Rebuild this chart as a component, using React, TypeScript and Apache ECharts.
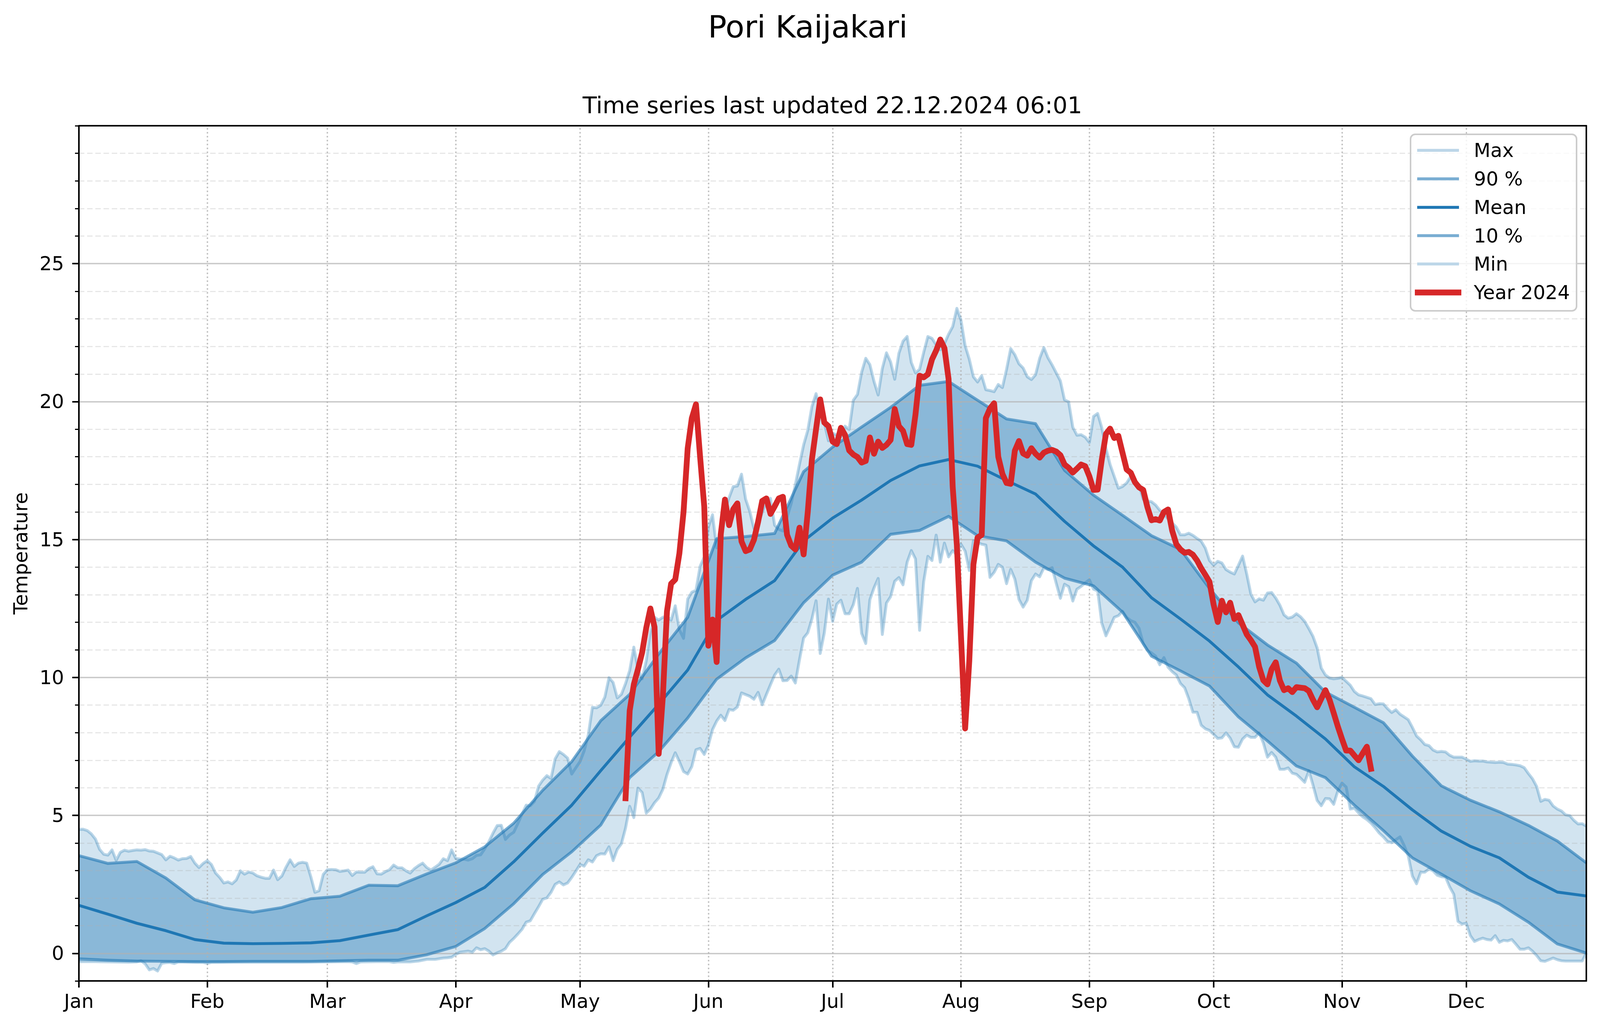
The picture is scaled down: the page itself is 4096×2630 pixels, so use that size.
import React, { useEffect, useRef } from "react";
import * as echarts from "echarts";

const FONT = "DejaVu Sans";
const TAB_BLUE = "#1f77b4";
const RED = "#d62728";

const TITLE = "Pori Kaijakari";
const SUBTITLE = "Time series last updated 22.12.2024 06:01";
const Y_NAME = "Temperature";

const MONTHS = ["Jan", "Feb", "Mar", "Apr", "May", "Jun", "Jul", "Aug", "Sep", "Oct", "Nov", "Dec"];
const MONTH_START_DAYS = [0, 31, 60, 91, 121, 152, 182, 213, 244, 274, 305, 335];
const Y_MAJOR_TICKS = [0, 5, 10, 15, 20, 25];
const Y_MINOR_TICKS = [-1, 1, 2, 3, 4, 6, 7, 8, 9, 11, 12, 13, 14, 16, 17, 18, 19, 21, 22, 23, 24, 26, 27, 28, 29, 30];

// weekly statistics (day of year)
const WEEK_DAYS = [0, 7, 14, 21, 28, 35, 42, 49, 56, 63, 70, 77, 84, 91, 98, 105, 112, 119, 126, 133, 140, 147, 154, 161, 168, 175, 182, 189, 196, 203, 210, 217, 224, 231, 238, 245, 252, 259, 266, 273, 280, 287, 294, 301, 308, 315, 322, 329, 336, 343, 350, 357, 364];
const P90 = [3.54, 3.26, 3.33, 2.73, 1.94, 1.65, 1.49, 1.66, 1.98, 2.07, 2.47, 2.45, 2.88, 3.28, 3.86, 4.72, 5.91, 6.95, 8.43, 9.39, 10.85, 12.18, 15.03, 15.11, 15.22, 17.46, 18.35, 19.08, 19.79, 20.59, 20.73, 20.05, 19.37, 19.2, 17.51, 16.61, 15.88, 15.14, 14.64, 13.23, 11.98, 11.18, 10.52, 9.47, 8.92, 8.36, 7.15, 6.07, 5.55, 5.13, 4.64, 4.07, 3.28];
const MEAN = [1.74, 1.42, 1.09, 0.82, 0.5, 0.37, 0.35, 0.36, 0.38, 0.46, 0.66, 0.86, 1.36, 1.84, 2.39, 3.32, 4.36, 5.37, 6.62, 7.84, 9.03, 10.27, 12.07, 12.83, 13.51, 14.95, 15.78, 16.43, 17.14, 17.67, 17.9, 17.66, 17.14, 16.65, 15.66, 14.77, 14.0, 12.89, 12.12, 11.32, 10.38, 9.37, 8.6, 7.77, 6.76, 6.05, 5.2, 4.43, 3.88, 3.46, 2.76, 2.22, 2.08];
const P10 = [-0.2, -0.25, -0.28, -0.29, -0.3, -0.3, -0.29, -0.29, -0.29, -0.27, -0.25, -0.25, -0.05, 0.25, 0.9, 1.8, 2.86, 3.68, 4.65, 6.37, 7.31, 8.53, 9.94, 10.71, 11.34, 12.71, 13.71, 14.18, 15.19, 15.33, 15.84, 15.14, 14.95, 14.18, 13.6, 13.32, 12.37, 10.77, 10.24, 9.69, 8.57, 7.7, 6.79, 6.37, 5.37, 4.45, 3.46, 2.87, 2.27, 1.79, 1.13, 0.34, 0.01];

// daily maximum, days 0..364
const MAX_START_DAY = 0;
const MAX_VALUES = [
  4.49, 4.5, 4.45, 4.33, 4.14, 3.77, 3.59, 3.56, 3.75, 3.37,
  3.66, 3.74, 3.7, 3.73, 3.75, 3.74, 3.76, 3.71, 3.7, 3.64,
  3.58, 3.39, 3.52, 3.46, 3.38, 3.43, 3.44, 3.51, 3.27, 3.11,
  3.26, 3.36, 3.22, 2.91, 2.75, 2.55, 2.59, 2.52, 2.66, 2.99,
  2.87, 2.95, 2.91, 2.81, 2.76, 2.72, 2.72, 3.02, 2.67, 2.8,
  3.12, 3.39, 3.15, 3.27, 3.3, 3.27, 2.78, 2.21, 2.27, 2.86,
  3.03, 3.04, 3.03, 2.97, 2.99, 3.02, 2.82, 2.95, 2.94, 2.94,
  3.07, 3.14, 2.88, 2.87, 2.96, 3.03, 3.2, 3.1, 3.1, 2.99,
  2.91, 3.07, 3.18, 3.27, 3.11, 3.02, 3.12, 3.23, 3.43, 3.36,
  3.75, 3.44, 3.42, 3.41, 3.38, 3.43, 3.55, 3.57, 3.79, 4.05,
  4.36, 4.63, 4.64, 4.13, 4.29, 4.39, 4.71, 5.05, 5.37, 5.35,
  5.51, 6.06, 6.28, 6.44, 6.34, 7.05, 7.31, 7.21, 7.08, 6.5,
  6.73, 6.95, 7.34, 7.92, 8.92, 8.9, 8.99, 9.29, 9.99, 9.82,
  9.26, 9.39, 9.78, 10.25, 11.1, 10.3, 9.95, 10.61, 11.66, 12.18,
  12.08, 12.18, 12.22, 12.08, 12.6, 11.73, 11.42, 12.84, 13.09, 13.16,
  14.03, 14.37, 15.45, 15.9, 14.7, 15.52, 16.05, 16.52, 16.92, 16.94,
  17.37, 16.46, 16.02, 15.4, 15.52, 15.99, 16.4, 16.49, 15.52, 15.37,
  15.31, 15.81, 16.31, 16.99, 17.73, 18.43, 18.96, 19.82, 20.29, 19.73,
  19.23, 18.58, 18.85, 18.79, 18.73, 19.11, 18.99, 20.05, 20.26, 21.06,
  21.57, 21.34, 20.73, 20.24, 21.2, 21.77, 21.44, 20.81, 21.75, 22.19,
  22.36, 21.42, 21.04, 21.17, 21.79, 22.36, 22.29, 22.06, 21.88, 22.1,
  22.44, 22.72, 23.38, 22.95, 22.03, 21.54, 20.9, 20.71, 20.94, 20.43,
  20.4, 20.36, 20.62, 20.51, 21.17, 21.92, 21.7, 21.37, 21.22, 20.9,
  20.8, 20.97, 21.57, 21.96, 21.59, 21.33, 21.04, 20.75, 20.06, 19.99,
  19.07, 18.78, 18.8, 18.71, 18.52, 19.46, 19.57, 19.05, 18.31, 17.72,
  17.29, 16.86, 16.92, 17.05, 17.29, 17.11, 16.98, 16.46, 16.4, 16.37,
  16.25, 16.06, 15.94, 15.75, 15.6, 15.45, 15.17, 15.17, 15.23, 15.15,
  15.04, 14.94, 14.69, 14.24, 14.07, 14.21, 14.15, 13.91, 13.82, 13.75,
  14.07, 14.4, 13.75, 13.02, 12.74, 12.85, 12.8, 13.06, 13.08, 12.88,
  12.62, 12.27, 12.15, 12.19, 12.31, 12.2, 12.03, 11.77, 11.49, 11.07,
  10.34, 10.09, 9.98, 9.95, 9.97, 10.0, 9.86, 9.72, 9.49, 9.37,
  9.33, 9.28, 9.23, 9.02, 9.05, 9.04, 8.87, 8.73, 8.83, 8.67,
  8.57, 8.47, 8.19, 7.88, 7.74, 7.57, 7.53, 7.37, 7.3, 7.32,
  7.3, 7.18, 7.11, 7.11, 7.11, 7.04, 6.96, 6.98, 6.97, 6.97,
  6.94, 6.93, 6.92, 6.93, 6.92, 6.86, 6.85, 6.83, 6.8, 6.73,
  6.52, 6.33, 6.05, 5.51, 5.58, 5.55, 5.34, 5.23, 5.16, 5.02,
  4.99, 4.82, 4.69, 4.7, 4.61,
];

// daily minimum: sparse readings in winter, then daily from day 93
const MIN_EARLY = [
  [0, -0.3], [4, -0.3], [8, -0.31], [12, -0.32], [14, -0.31], [15, -0.27], [16, -0.38], [17, -0.6], [18, -0.55], [19, -0.64],
  [20, -0.36], [21, -0.34], [22, -0.33], [23, -0.37], [24, -0.31], [27, -0.32], [30, -0.33], [31, -0.36], [32, -0.33], [36, -0.32],
  [42, -0.32], [48, -0.32], [54, -0.32], [60, -0.31], [65, -0.3], [66, -0.31], [67, -0.37], [68, -0.31], [72, -0.3], [75, -0.3],
  [76, -0.33], [77, -0.31], [80, -0.31], [82, -0.28], [84, -0.22], [86, -0.22], [88, -0.17], [89, -0.16], [90, -0.14], [91, -0.04],
  [92, 0.04],
];
const MIN_START_DAY = 93;
const MIN_VALUES = [
  0.06, 0.08, 0.04, 0.2, 0.13, 0.17, 0.08,
  -0.06, 0.02, 0.08, 0.17, 0.4, 0.54, 0.7, 0.87, 1.13, 1.18,
  1.44, 1.69, 1.96, 2.01, 2.21, 2.5, 2.59, 2.48, 2.55, 2.75,
  2.98, 3.22, 3.16, 3.39, 3.31, 3.54, 3.61, 3.6, 3.86, 3.36,
  3.77, 3.97, 4.54, 5.33, 4.92, 5.99, 5.83, 5.08, 5.23, 5.46,
  5.63, 5.94, 6.48, 6.91, 7.27, 6.95, 6.59, 6.5, 6.77, 7.38,
  7.43, 7.21, 7.55, 8.11, 8.42, 8.63, 8.44, 8.84, 8.81, 8.93,
  9.44, 9.38, 9.32, 9.21, 9.46, 9.01, 9.38, 9.74, 10.09, 10.3,
  9.88, 9.89, 10.05, 9.8, 10.64, 11.43, 11.62, 12.12, 12.78, 10.87,
  11.62, 12.84, 12.03, 12.66, 12.8, 12.31, 12.31, 12.64, 13.23, 11.6,
  11.23, 12.82, 13.25, 13.59, 11.56, 12.7, 12.93, 13.49, 13.62, 13.36,
  14.18, 14.6, 14.3, 11.71, 13.48, 14.39, 14.24, 15.16, 14.18, 14.87,
  14.37, 14.6, 14.44, 14.83, 14.58, 13.88, 14.95, 14.89, 14.83, 14.8,
  13.63, 13.81, 14.1, 14.0, 13.4, 13.92, 13.57, 12.83, 12.55, 12.8,
  13.51, 13.75, 13.65, 13.97, 13.91, 13.98, 13.41, 12.87, 13.38, 13.29,
  12.77, 13.2, 13.3, 13.43, 13.54, 13.2, 13.14, 11.97, 11.51, 11.84,
  12.18, 12.24, 12.4, 12.18, 12.06, 12.0, 11.78, 11.23, 10.98, 10.89,
  10.77, 10.46, 10.72, 10.37, 10.21, 10.09, 9.78, 9.63, 9.23, 8.74,
  8.74, 8.27, 8.14, 8.08, 7.94, 7.79, 7.81, 7.99, 7.8, 7.49,
  7.47, 7.77, 7.91, 7.83, 7.83, 7.99, 7.63, 7.11, 7.28, 7.11,
  6.67, 6.67, 6.72, 6.53, 6.49, 6.35, 6.2, 6.62, 6.1, 5.54,
  5.35, 5.61, 5.6, 5.4, 5.89, 6.17, 6.03, 5.23, 5.26, 5.09,
  4.95, 4.85, 4.72, 4.55, 4.36, 4.22, 4.05, 4.01, 4.12, 4.22,
  3.91, 3.53, 2.8, 2.52, 2.94, 2.94, 3.06, 2.99, 2.83, 2.78,
  2.76, 2.41, 2.14, 1.16, 1.06, 1.09, 0.64, 0.43, 0.5, 0.55,
  0.5, 0.48, 0.64, 0.4, 0.47, 0.45, 0.5, 0.33, 0.15, 0.15,
  0.2, 0.08, -0.08, -0.27, -0.29, -0.23, -0.17, -0.23, -0.27, -0.28,
  -0.28, -0.28, -0.28, -0.28, 0.01,
];

// year 2024 daily values from day 132
const YEAR_START_DAY = 132;
const YEAR_2024 = [
  5.62, 8.8, 9.75, 10.3, 10.9, 11.8, 12.5, 11.83,
  7.23, 9.3, 12.4, 13.4, 13.55, 14.5, 16.0, 18.3, 19.4, 19.9,
  18.0, 16.2, 11.15, 12.1, 10.56, 15.2, 16.45, 15.52, 16.1, 16.31,
  14.93, 14.58, 14.64, 14.99, 15.64, 16.4, 16.49, 15.93, 16.2, 16.49,
  16.55, 15.17, 14.78, 14.64, 15.43, 14.46, 16.0, 17.9, 19.0, 20.08,
  19.24, 19.11, 18.55, 18.46, 19.05, 18.79, 18.23, 18.08, 17.99, 17.79,
  17.85, 18.7, 18.11, 18.55, 18.32, 18.43, 18.61, 19.73, 19.11, 18.94,
  18.46, 18.43, 19.52, 20.94, 20.88, 20.99, 21.53, 21.85, 22.25, 21.94,
  20.82, 16.9, 14.8, 11.5, 8.15, 10.6, 14.1, 15.07, 15.17, 19.4,
  19.75, 19.94, 18.0, 17.38, 17.05, 17.02, 18.22, 18.57, 18.12, 18.04,
  18.31, 18.11, 17.97, 18.15, 18.22, 18.25, 18.19, 18.06, 17.72, 17.6,
  17.43, 17.57, 17.72, 17.66, 17.29, 16.8, 16.81, 17.9, 18.83, 19.02,
  18.68, 18.76, 18.15, 17.54, 17.42, 17.08, 16.89, 16.8, 16.18, 15.7,
  15.74, 15.69, 16.0, 16.09, 15.32, 14.83, 14.64, 14.52, 14.55, 14.45,
  14.24, 13.96, 13.72, 13.47, 12.64, 12.01, 12.78, 12.36, 12.71, 12.12,
  12.26, 11.91, 11.56, 11.35, 11.11, 10.38, 9.9, 9.75, 10.3, 10.55,
  9.89, 9.54, 9.61, 9.47, 9.65, 9.63, 9.61, 9.51, 9.19, 8.92,
  9.23, 9.54, 9.19, 8.71, 8.22, 7.77, 7.35, 7.35, 7.17, 7.0,
  7.25, 7.49, 6.69,
];

const LEGEND_ITEMS = [
  { name: "Max", color: "#bcd6e8", width: 7.4 },
  { name: "90 %", color: "#79add2", width: 7.4 },
  { name: "Mean", color: TAB_BLUE, width: 7.4 },
  { name: "10 %", color: "#79add2", width: 7.4 },
  { name: "Min", color: "#bcd6e8", width: 7.4 },
  { name: "Year 2024", color: RED, width: 14.8 },
];

const fromStart = (start: number, values: number[]) => values.map((v, i) => [start + i, v]);
const zipDays = (days: number[], values: number[]) => values.map((v, i) => [days[i], v]);

export default function App() {
  const ref = useRef<HTMLDivElement>(null);

  useEffect(() => {
    const chart = echarts.init(ref.current as HTMLDivElement, null, { renderer: "svg" });

    const maxData = fromStart(MAX_START_DAY, MAX_VALUES);
    const minData = [...MIN_EARLY, ...fromStart(MIN_START_DAY, MIN_VALUES)];
    const p90Data = zipDays(WEEK_DAYS, P90);
    const meanData = zipDays(WEEK_DAYS, MEAN);
    const p10Data = zipDays(WEEK_DAYS, P10);
    const yearData = fromStart(YEAR_START_DAY, YEAR_2024);

    const band = (upper: number[][], lower: number[][], fill: string, z: number) => ({
      type: "custom",
      coordinateSystem: "cartesian2d",
      data: [[0, 0]],
      silent: true,
      z,
      renderItem: (_params: any, api: any) => {
        const pts = upper.map((p) => api.coord(p)).concat(lower.slice().reverse().map((p) => api.coord(p)));
        return { type: "polygon", shape: { points: pts }, style: { fill } };
      },
    });

    const line = (name: string, data: number[][], color: string, width: number, opacity: number, z: number) => ({
      type: "line",
      name,
      data,
      symbol: "none",
      showSymbol: false,
      silent: true,
      z,
      lineStyle: { color, width, opacity, join: "round", cap: "butt" },
    });

    const minorGrid = Y_MINOR_TICKS.filter((v) => v > -1 && v < 30);
    const gridLines = {
      type: "line",
      data: [],
      silent: true,
      z: 2,
      markLine: {
        silent: true,
        z: 2,
        symbol: ["none", "none"],
        animation: false,
        label: { show: false },
        emphasis: { disabled: true },
        data: [
          ...minorGrid.map((v) => ({ yAxis: v, lineStyle: { color: "#b0b0b0", opacity: 0.3, width: 3, type: [14, 7] } })),
          ...Y_MAJOR_TICKS.map((v) => ({ yAxis: v, lineStyle: { color: "#b0b0b0", opacity: 0.7, width: 3.5, type: "solid" } })),
          ...MONTH_START_DAYS.slice(1).map((d) => ({ xAxis: d, lineStyle: { color: "#b0b0b0", opacity: 0.8, width: 3.5, type: [4, 6] } })),
        ],
      },
    };

    const axisLine = { show: true, onZero: false, lineStyle: { color: "#000", width: 4 } };
    const labelStyle = { color: "#000", fontSize: 49.4, fontFamily: FONT };

    const legendRowY = [385, 458, 531, 603.5, 676, 749];
    const legendGraphics: any[] = [
      {
        type: "rect",
        shape: { x: 3611, y: 344, width: 425, height: 452, r: 12 },
        style: { fill: "rgba(255,255,255,0.8)", stroke: "#cccccc", lineWidth: 4 },
        z: 100,
        silent: true,
      },
    ];
    LEGEND_ITEMS.forEach((it, i) => {
      const extra = it.width > 10 ? 6 : 0;
      legendGraphics.push({
        type: "line",
        shape: { x1: 3628 - extra, y1: legendRowY[i], x2: 3735 + extra, y2: legendRowY[i] },
        style: { stroke: it.color, lineWidth: it.width },
        z: 101,
        silent: true,
      });
      legendGraphics.push({
        type: "text",
        x: 3773,
        y: legendRowY[i],
        style: { text: it.name, fill: "#000", font: `49.4px '${FONT}'`, textAlign: "left", textVerticalAlign: "middle" },
        z: 101,
        silent: true,
      });
    });

    const option: any = {
      animation: false,
      backgroundColor: "#ffffff",
      textStyle: { fontFamily: FONT },
      grid: { left: 202, top: 322, right: 35, bottom: 118, containLabel: false, outerBoundsMode: "none", show: false },
      xAxis: [
        {
          type: "value",
          position: "bottom",
          min: 0,
          max: 364,
          z: 10,
          axisLine,
          axisTick: { show: true, customValues: MONTH_START_DAYS, length: 17, lineStyle: { color: "#000", width: 4 } },
          axisLabel: {
            ...labelStyle,
            margin: 27,
            customValues: MONTH_START_DAYS,
            formatter: (v: number) => {
              const k = MONTH_START_DAYS.indexOf(Math.round(v));
              return k >= 0 ? MONTHS[k] : "";
            },
          },
          splitLine: { show: false },
        },
        {
          type: "value",
          position: "top",
          min: 0,
          max: 364,
          z: 10,
          axisLine,
          axisTick: { show: false },
          axisLabel: { show: false },
          splitLine: { show: false },
        },
      ],
      yAxis: [
        {
          type: "value",
          position: "left",
          offset: 0,
          min: -1,
          max: 30,
          z: 10,
          axisLine,
          axisTick: { show: true, customValues: Y_MAJOR_TICKS, length: 17, lineStyle: { color: "#000", width: 4 } },
          axisLabel: { ...labelStyle, margin: 38, customValues: Y_MAJOR_TICKS },
          splitLine: { show: false },
        },
        {
          type: "value",
          position: "left",
          offset: 0,
          min: -1,
          max: 30,
          z: 10,
          axisLine: { show: false, onZero: false },
          axisTick: { show: true, customValues: Y_MINOR_TICKS, length: 10, lineStyle: { color: "#000", width: 3 } },
          axisLabel: { show: false },
          splitLine: { show: false },
        },
        {
          type: "value",
          position: "right",
          offset: 0,
          min: -1,
          max: 30,
          z: 10,
          axisLine,
          axisTick: { show: false },
          axisLabel: { show: false },
          splitLine: { show: false },
        },
      ],
      series: [
        band(maxData, minData, "#d2e4f0", 1),
        band(p90Data, p10Data, "#8ab8d8", 1),
        gridLines,
        line("Max", maxData, TAB_BLUE, 7.4, 0.3, 3),
        line("90 %", p90Data, TAB_BLUE, 7.4, 0.6, 3),
        line("Mean", meanData, TAB_BLUE, 7.4, 1, 3),
        line("10 %", p10Data, TAB_BLUE, 7.4, 0.6, 3),
        line("Min", minData, TAB_BLUE, 7.4, 0.3, 3),
        { ...line("Year 2024", yearData, RED, 14.8, 1, 4), lineStyle: { color: RED, width: 14.8, join: "round", cap: "square" } },
      ],
      graphic: [
        {
          type: "text",
          x: 2068,
          y: 69,
          style: { text: TITLE, fill: "#000", font: `79px '${FONT}'`, textAlign: "center", textVerticalAlign: "middle" },
          silent: true,
        },
        {
          type: "text",
          x: 2131,
          y: 269,
          style: { text: SUBTITLE, fill: "#000", font: `59.3px '${FONT}'`, textAlign: "center", textVerticalAlign: "middle" },
          silent: true,
        },
        {
          type: "text",
          x: 53,
          y: 1417,
          rotation: Math.PI / 2,
          style: { text: Y_NAME, fill: "#000", font: `49.4px '${FONT}'`, textAlign: "center", textVerticalAlign: "middle" },
          silent: true,
        },
        ...legendGraphics,
      ],
    };

    chart.setOption(option);
    return () => chart.dispose();
  }, []);

  return (
    <div
      ref={ref}
      style={{ position: "fixed", left: 0, top: 0, width: 4096, height: 2630, background: "#ffffff" }}
    />
  );
}
